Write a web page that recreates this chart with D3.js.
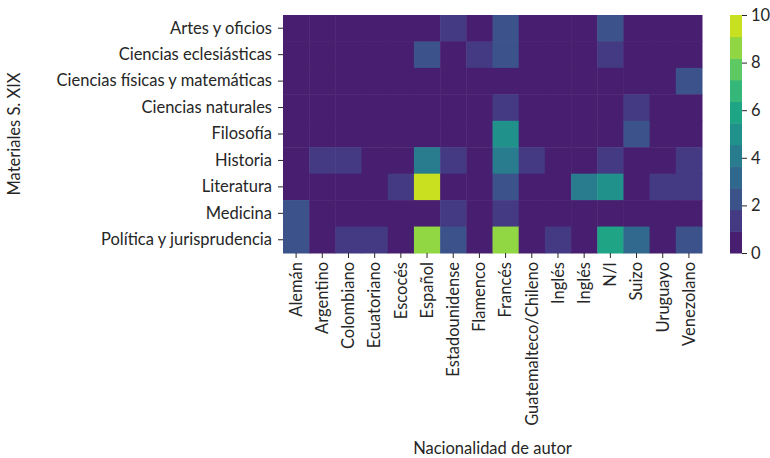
<!DOCTYPE html>
<html>
<head>
<meta charset="utf-8">
<script src="https://cdn.jsdelivr.net/npm/d3@7"></script>
<style>
  body { margin: 0; background: #fff; }
  text { font-family: Lato, sans-serif; fill: #262626; }
</style>
</head>
<body>
<svg id="chart"></svg>
<script>
const materias = [
    "Artes y oficios", "Ciencias eclesiásticas", "Ciencias físicas y matemáticas",
    "Ciencias naturales", "Filosofía ", "Historia", "Literatura", "Medicina",
    "Política y jurisprudencia"
];

const nacionalidades = [
    "Alemán", "Argentino", "Colombiano", "Ecuatoriano", "Escocés", "Español",
    "Estadounidense", "Flamenco", "Francés", "Guatemalteco/Chileno", "Inglés",
    "Inglés ", "N/I", "Suizo", "Uruguayo", "Venezolano"
];

// one row per materia, one value per nacionalidad
const conteos = [
    [0, 0, 0, 0, 0, 0, 1, 0, 2, 0, 0, 0, 2, 0, 0, 0],
    [0, 0, 0, 0, 0, 2, 0, 1, 2, 0, 0, 0, 1, 0, 0, 0],
    [0, 0, 0, 0, 0, 0, 0, 0, 0, 0, 0, 0, 0, 0, 0, 2],
    [0, 0, 0, 0, 0, 0, 0, 0, 1, 0, 0, 0, 0, 1, 0, 0],
    [0, 0, 0, 0, 0, 0, 0, 0, 5, 0, 0, 0, 0, 2, 0, 0],
    [0, 1, 1, 0, 0, 4, 1, 0, 4, 1, 0, 0, 1, 0, 0, 1],
    [0, 0, 0, 0, 1, 10, 0, 0, 2, 0, 0, 4, 5, 0, 1, 1],
    [2, 0, 0, 0, 0, 0, 1, 0, 1, 0, 0, 0, 0, 0, 0, 0],
    [2, 0, 1, 1, 0, 9, 2, 0, 9, 0, 1, 0, 6, 3, 0, 2]
];

const colorTicks = [0, 2, 4, 6, 8, 10];

const width = 770;
const height = 458;
const margin = ({ top: 15, right: 68, bottom: 205, left: 283 });
const nBins = 11;
const fontSize = 16.5;

const svg = d3.select("#chart")
    .attr("width", width)
    .attr("height", height);

const cells = [];
conteos.forEach((row, i) => row.forEach((v, j) => cells.push({ m: materias[i], n: nacionalidades[j], v: v })));

const xScale = d3.scaleBand()
    .domain(nacionalidades)
    .range([margin.left, width - margin.right]);

const yScale = d3.scaleBand()
    .domain(materias)
    .range([margin.top, height - margin.bottom]);

// discrete viridis, 11 steps between 0 and 10
const binColors = d3.range(nBins).map(i => d3.interpolateViridis((i + 1) / (nBins + 1)));
const color = d3.scaleQuantize().domain([0, 10]).range(binColors);

svg.append("g")
    .selectAll("rect")
    .data(cells)
    .join("rect")
    .attr("x", d => xScale(d.n))
    .attr("y", d => yScale(d.m))
    .attr("width", xScale.bandwidth() + 0.5)
    .attr("height", yScale.bandwidth() + 0.5)
    .attr("fill", d => color(Math.min(d.v, 9.99)));

const xAxis = g => g
    .attr("transform", `translate(0,${height - margin.bottom})`)
    .call(d3.axisBottom(xScale).tickSize(5))
    .call(g => g.select(".domain").remove())
    .call(g => g.selectAll(".tick line").attr("stroke", "#262626"))
    .call(g => g.selectAll(".tick text")
        .attr("font-size", fontSize)
        .attr("transform", "rotate(-90)")
        .attr("text-anchor", "end")
        .attr("x", -9)
        .attr("y", 0)
        .attr("dy", "0.35em"));

const yAxis = g => g
    .attr("transform", `translate(${margin.left},0)`)
    .call(d3.axisLeft(yScale).tickSize(5).tickPadding(6))
    .call(g => g.select(".domain").remove())
    .call(g => g.selectAll(".tick line").attr("stroke", "#262626"))
    .call(g => g.selectAll(".tick text").attr("font-size", fontSize));

svg.append("g").call(xAxis);
svg.append("g").call(yAxis);

svg.append("text")
    .attr("transform", `translate(20,${(margin.top + height - margin.bottom) / 2}) rotate(-90)`)
    .attr("text-anchor", "middle")
    .attr("font-size", fontSize)
    .text("Materiales S. XIX");

svg.append("text")
    .attr("x", (margin.left + width - margin.right) / 2)
    .attr("y", 454)
    .attr("text-anchor", "middle")
    .attr("font-size", fontSize)
    .text("Nacionalidad de autor");

// colorbar
const cbX = 730, cbW = 12;
const cScale = d3.scaleLinear()
    .domain([0, 10])
    .range([height - margin.bottom, margin.top]);

svg.append("g")
    .selectAll("rect")
    .data(binColors)
    .join("rect")
    .attr("x", cbX)
    .attr("y", (d, i) => cScale((i + 1) * 10 / nBins))
    .attr("width", cbW)
    .attr("height", (d, i) => cScale(i * 10 / nBins) - cScale((i + 1) * 10 / nBins) + 0.5)
    .attr("fill", d => d);

svg.append("g")
    .attr("transform", `translate(${cbX + cbW},0)`)
    .call(d3.axisRight(cScale).tickValues(colorTicks).tickSize(5).tickPadding(4))
    .call(g => g.select(".domain").remove())
    .call(g => g.selectAll(".tick line").attr("stroke", "#262626"))
    .call(g => g.selectAll(".tick text").attr("font-size", fontSize));
</script>
</body>
</html>
